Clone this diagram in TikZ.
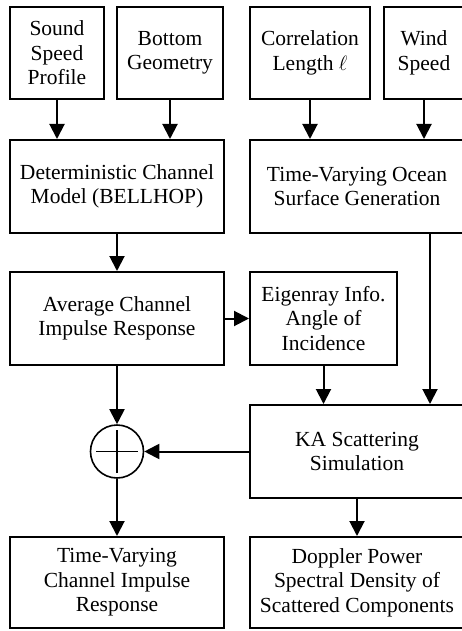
\documentclass[tikz,border=0pt]{standalone}
\usepackage{fontspec}
\setmainfont{Liberation Serif}
\usetikzlibrary{arrows.meta}
\begin{document}
\begin{tikzpicture}[x=1pt,y=-1pt,
  box/.style={draw, line width=2pt, align=center, inner sep=0pt,
    font=\fontsize{21.5}{24.5}\selectfont},
  arr/.style={line width=2pt, -{Triangle[length=15pt,width=15pt]}},
  thin/.style={line width=1.6pt}]
\useasboundingbox (0,0) rectangle (462,631);
\clip (0,0) rectangle (462,631);
% top row
\node[box, minimum width=94pt, minimum height=92pt] (ssp) at (57,53) {Sound\\Speed\\Profile};
\node[box, minimum width=106pt, minimum height=92pt] (bg) at (170,53) {Bottom\\Geometry};
\node[box, minimum width=120pt, minimum height=92pt] (cl) at (310,53) {Correlation\\Length $\ell$};
\node[box, minimum width=80pt, minimum height=92pt] (ws) at (424,53) {Wind\\Speed};
% second row
\node[box, minimum width=214pt, minimum height=93pt] (det) at (117,186.5) {Deterministic Channel\\Model (BELLHOP)};
\node[box, minimum width=214pt, minimum height=93pt] (ocean) at (357,186.5) {Time-Varying Ocean\\Surface Generation};
% third row
\node[box, minimum width=214pt, minimum height=93pt] (avg) at (117,318.5) {Average Channel\\Impulse Response};
\node[box, minimum width=147pt, minimum height=93pt] (eig) at (323.5,318.5) {Eigenray Info.\\Angle of\\Incidence};
% KA
\node[box, minimum width=214pt, minimum height=93pt] (ka) at (357,451.5) {KA Scattering\\Simulation};
% summation
\node[draw, circle, thin, minimum size=53pt, inner sep=0pt] (sum) at (117,451.5) {};
\draw[thin] ([xshift=-21pt]sum.center) -- ([xshift=21pt]sum.center);
\draw[thin] ([yshift=-21.5pt]sum.center) -- ([yshift=21.5pt]sum.center);
% bottom row
\node[box, minimum width=214pt, minimum height=91pt] (tv) at (117,582.5) {Time-Varying\\Channel Impulse\\Response};
\node[box, minimum width=214pt, minimum height=91pt] (dop) at (357,582.5) {Doppler Power\\Spectral Density of\\Scattered Components};
% connectors
\draw[arr] (ssp) -- (ssp |- det.north);
\draw[arr] (bg) -- (bg |- det.north);
\draw[arr] (cl) -- (cl |- ocean.north);
\draw[arr] (ws) -- (ws |- ocean.north);
\draw[arr] (det) -- (avg);
\draw[arr] (avg) -- (eig);
\draw[arr] (eig) -- (eig |- ka.north);
\coordinate (o1) at ([xshift=73pt]ocean.south);
\draw[arr] (o1) -- (o1 |- ka.north);
\draw[arr] (avg) -- (sum);
\draw[arr] (ka) -- (sum);
\draw[arr] (sum) -- (tv);
\draw[arr] (ka) -- (dop);
\end{tikzpicture}
\end{document}
